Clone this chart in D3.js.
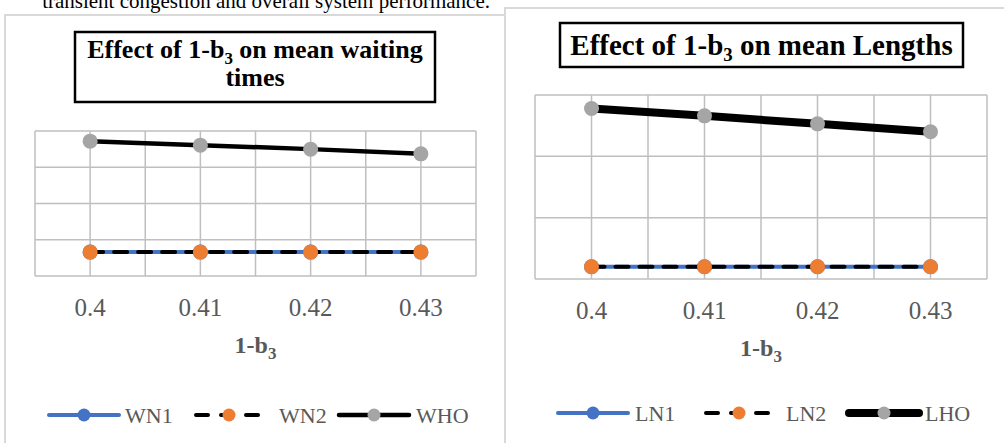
<!DOCTYPE html>
<html>
<head>
<meta charset="utf-8">
<script src="https://cdn.jsdelivr.net/npm/d3@7"></script>
<style>
  body { margin: 0; background: #fff; }
  svg { display: block; font-family: "Times New Roman", "Liberation Serif", serif; }
</style>
</head>
<body>
<svg width="1004" height="443"></svg>
<script>
const categories = ['0.4', '0.41', '0.42', '0.43']

// waiting times (left chart)
const WN1 = [6.6, 6.6, 6.6, 6.6]
const WN2 = [6.6, 6.6, 6.6, 6.6]
const WHO = [37.2, 36.1, 35.0, 33.7]

// lengths (right chart)
const LN1 = [2.0, 2.0, 2.0, 2.0]
const LN2 = [2.0, 2.0, 2.0, 2.0]
const LHO = [27.8, 26.6, 25.3, 24.0]

const BLUE = '#4472c4'
const ORANGE = '#ed7d31'
const GRAY = '#a5a5a5'
const TEXT = '#595959'

const svg = d3.select('svg')

svg.append('rect').attr('width', 1004).attr('height', 443).attr('fill', '#fff')

// leftover line of the paper text above the figures
svg.append('text')
  .attr('x', 490).attr('y', 8)
  .attr('text-anchor', 'end')
  .attr('font-size', 21)
  .attr('fill', '#000')
  .text('transient congestion and overall system performance.')

// chart frames
svg.append('rect')
  .attr('x', 5).attr('y', 15).attr('width', 500).attr('height', 500)
  .attr('fill', 'none').attr('stroke', '#d9d9d9').attr('stroke-width', 2)
svg.append('rect')
  .attr('x', 505).attr('y', 8).attr('width', 600).attr('height', 500)
  .attr('fill', 'none').attr('stroke', '#d9d9d9').attr('stroke-width', 2)

function chart(cfg) {
  const g = svg.append('g')

  const x = d3.scaleBand().domain(categories).range([cfg.left, cfg.right]).padding(0)
  const y = d3.scaleLinear().domain(cfg.yDomain).range([cfg.bottom, cfg.top])

  // gridlines
  const half = x.step() / 2
  const vLines = []
  categories.forEach(c => { vLines.push(x(c)); vLines.push(x(c) + half) })
  vLines.push(cfg.right)

  g.append('g').selectAll('line')
    .data(y.ticks(cfg.yTicks))
    .join('line')
    .attr('x1', cfg.left).attr('x2', cfg.right)
    .attr('y1', d => y(d)).attr('y2', d => y(d))
    .attr('stroke', '#bfbfbf').attr('stroke-width', 1.5)

  g.append('g').selectAll('line')
    .data(vLines)
    .join('line')
    .attr('x1', d => d).attr('x2', d => d)
    .attr('y1', cfg.top).attr('y2', cfg.bottom)
    .attr('stroke', '#bfbfbf').attr('stroke-width', 1.5)

  // x tick labels
  g.append('g').selectAll('text')
    .data(categories)
    .join('text')
    .attr('x', d => x(d) + half)
    .attr('y', cfg.bottom + 40)
    .attr('text-anchor', 'middle')
    .attr('font-size', 25)
    .attr('fill', TEXT)
    .text(d => d)

  // axis title 1-b3
  const at = g.append('text')
    .attr('x', (cfg.left + cfg.right) / 2)
    .attr('y', cfg.bottom + 77)
    .attr('text-anchor', 'middle')
    .attr('font-size', 24)
    .attr('font-weight', 'bold')
    .attr('fill', TEXT)
  at.append('tspan').text('1-b')
  at.append('tspan').attr('font-size', 17).attr('dy', 6).text('3')

  const line = d3.line()
    .x((d, i) => x(categories[i]) + half)
    .y(d => y(d))

  cfg.series.forEach(s => {
    g.append('path')
      .datum(s.values)
      .attr('d', line)
      .attr('fill', 'none')
      .attr('stroke', s.stroke)
      .attr('stroke-width', s.width)
      .attr('stroke-linecap', 'round')
      .attr('stroke-dasharray', s.dash || null)
    g.append('g').selectAll('circle')
      .data(s.values)
      .join('circle')
      .attr('cx', (d, i) => x(categories[i]) + half)
      .attr('cy', d => y(d))
      .attr('r', 7.5)
      .attr('fill', s.marker)
  })

  // title box
  g.append('rect')
    .attr('x', cfg.titleBox[0]).attr('y', cfg.titleBox[1])
    .attr('width', cfg.titleBox[2]).attr('height', cfg.titleBox[3])
    .attr('fill', '#fff').attr('stroke', '#000').attr('stroke-width', 2.5)
  const tcx = cfg.titleBox[0] + cfg.titleBox[2] / 2
  const subShift = cfg.titleSize * 0.22
  cfg.title.forEach((ln, i) => {
    const t = g.append('text')
      .attr('x', tcx)
      .attr('y', cfg.titleY + i * cfg.titleLead)
      .attr('text-anchor', 'middle')
      .attr('font-size', cfg.titleSize)
      .attr('font-weight', 'bold')
      .attr('fill', '#000')
    let shifted = false
    ln.forEach(part => {
      if (part.sub) {
        t.append('tspan').attr('font-size', cfg.titleSize * 0.65).attr('dy', subShift).text(part.text)
        shifted = true
      } else {
        t.append('tspan').attr('dy', shifted ? -subShift : null).text(part.text)
        shifted = false
      }
    })
  })

  // legend
  cfg.series.forEach((s, i) => {
    const lx = cfg.legendX[i]
    const ly = cfg.legendY
    g.append('line')
      .attr('x1', lx).attr('x2', lx + cfg.legendLen)
      .attr('y1', ly).attr('y2', ly)
      .attr('stroke', s.stroke)
      .attr('stroke-width', s.width)
      .attr('stroke-linecap', 'round')
      .attr('stroke-dasharray', s.dash ? '12,13' : null)
      .attr('stroke-dashoffset', s.dash ? -2 : null)
    g.append('circle')
      .attr('cx', lx + cfg.legendLen / 2).attr('cy', ly).attr('r', 6.5)
      .attr('fill', s.marker)
    g.append('text')
      .attr('x', lx + cfg.legendLen + cfg.legendGap[i])
      .attr('y', ly + 8)
      .attr('font-size', 22)
      .attr('fill', TEXT)
      .text(s.name)
  })
}

chart({
  left: 35, right: 476, top: 131, bottom: 276,
  yDomain: [0, 40], yTicks: 4,
  titleBox: [75, 32, 360, 70],
  titleSize: 26, titleY: 58, titleLead: 28,
  title: [
    [{ text: 'Effect of 1-b' }, { text: '3', sub: true }, { text: ' on mean waiting' }],
    [{ text: 'times' }]
  ],
  series: [
    { name: 'WN1', values: WN1, stroke: BLUE, width: 4, marker: BLUE },
    { name: 'WN2', values: WN2, stroke: '#000', width: 4, dash: '13,11', marker: ORANGE },
    { name: 'WHO', values: WHO, stroke: '#000', width: 4.5, marker: GRAY }
  ],
  legendX: [49, 194, 339],
  legendLen: 70,
  legendGap: [6, 15, 7],
  legendY: 415
})

chart({
  left: 535, right: 987, top: 95, bottom: 279,
  yDomain: [0, 30], yTicks: 3,
  titleBox: [560, 23, 403, 44],
  titleSize: 29, titleY: 55, titleLead: 30,
  title: [
    [{ text: 'Effect of 1-b' }, { text: '3', sub: true }, { text: ' on mean Lengths' }]
  ],
  series: [
    { name: 'LN1', values: LN1, stroke: BLUE, width: 4, marker: BLUE },
    { name: 'LN2', values: LN2, stroke: '#000', width: 4, dash: '13,11', marker: ORANGE },
    { name: 'LHO', values: LHO, stroke: '#000', width: 8, marker: GRAY }
  ],
  legendX: [558, 704, 849],
  legendLen: 70,
  legendGap: [7, 12, 6],
  legendY: 413
})
</script>
</body>
</html>
